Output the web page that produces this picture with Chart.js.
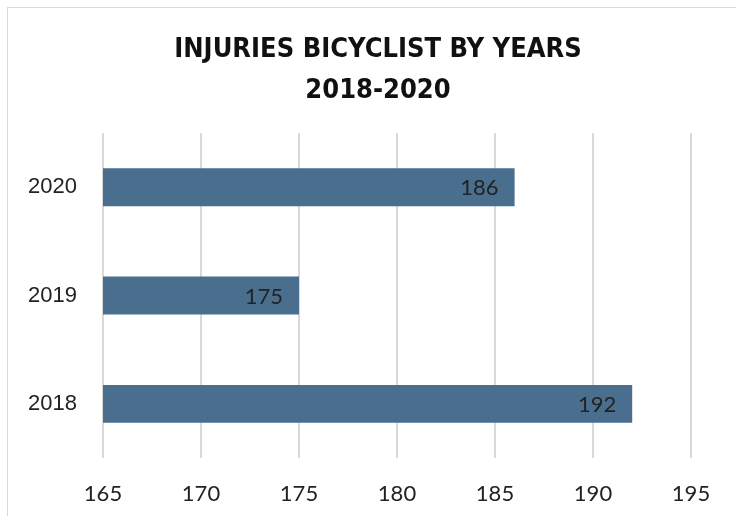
<!DOCTYPE html>
<html>
<head>
<meta charset="utf-8">
<script src="https://cdn.jsdelivr.net/npm/chart.js@4.4.1/dist/chart.umd.min.js"></script>
<style>
  html, body { margin: 0; padding: 0; background: #fff; overflow: hidden; }
  #wrap {
    position: absolute; left: 7px; top: 7px;
    width: 740px; height: 520px;
    border: 1px solid #d9d9d9; background: #fff;
  }
</style>
</head>
<body>
<div id="wrap"><canvas id="chart" width="740" height="520"></canvas></div>
<script>
// 데이터
const years = ['2020', '2019', '2018'];
const injuries = [186, 175, 192];
const xTicks = [165, 170, 175, 180, 185, 190, 195];

const BAR_COLOR = '#4a6f8e';
const TEXT_COLOR = '#222222';

// 막대 끝 안쪽에 값 표시
const valueLabels = {
  id: 'valueLabels',
  afterDatasetsDraw(chart) {
    const { ctx } = chart;
    const meta = chart.getDatasetMeta(0);
    ctx.save();
    ctx.font = '22px "Lato", sans-serif';
    ctx.fillStyle = TEXT_COLOR;
    ctx.textAlign = 'right';
    ctx.textBaseline = 'middle';
    meta.data.forEach((bar, i) => {
      ctx.fillText(String(injuries[i]), bar.x - 16, bar.y + 1);
    });
    ctx.restore();
  },
};

// 제목을 캔버스 전체 폭 기준으로 가운데 정렬 (오른쪽 패딩 무시)
const centerTitle = {
  id: 'centerTitle',
  afterLayout(chart) {
    const tb = chart.titleBlock;
    if (!tb) return;
    tb.left = 0;
    tb.right = chart.width;
    tb.width = chart.width;
  },
};

new Chart(document.getElementById('chart'), {
  type: 'bar',
  data: {
    labels: years,
    datasets: [{
      data: injuries,
      backgroundColor: BAR_COLOR,
      borderWidth: 0,
      barPercentage: 0.35,
      categoryPercentage: 1,
    }],
  },
  options: {
    indexAxis: 'y',
    responsive: false,
    animation: false,
    layout: { padding: { left: 0, right: 57, top: 0, bottom: 0 } },
    plugins: {
      legend: { display: false },
      tooltip: { enabled: false },
      title: {
        display: true,
        text: ['INJURIES BICYCLIST BY YEARS', '2018-2020'],
        color: '#111',
        font: { family: '"DejaVu Sans Condensed", "DejaVu Sans", sans-serif', size: 27, weight: 'bold', lineHeight: 1.52 },
        padding: { top: 21, bottom: 22 },
      },
    },
    scales: {
      x: {
        min: 165,
        max: 195,
        afterBuildTicks: (axis) => { axis.ticks = xTicks.map(v => ({ value: v })); },
        grid: { color: '#d9d9d9', lineWidth: 2, drawTicks: false },
        border: { display: false },
        ticks: {
          color: TEXT_COLOR,
          padding: 23,
          font: { family: '"Lato", sans-serif', size: 22 },
        },
        afterFit: (s) => { s.height = 70; },
      },
      y: {
        grid: { display: false },
        border: { display: false },
        ticks: {
          color: TEXT_COLOR,
          padding: 18,
          font: { family: '"Liberation Sans", Arial, sans-serif', size: 22 },
        },
        afterFit: (s) => { s.width = 95; },
      },
    },
  },
  plugins: [valueLabels, centerTitle],
});
</script>
</body>
</html>
